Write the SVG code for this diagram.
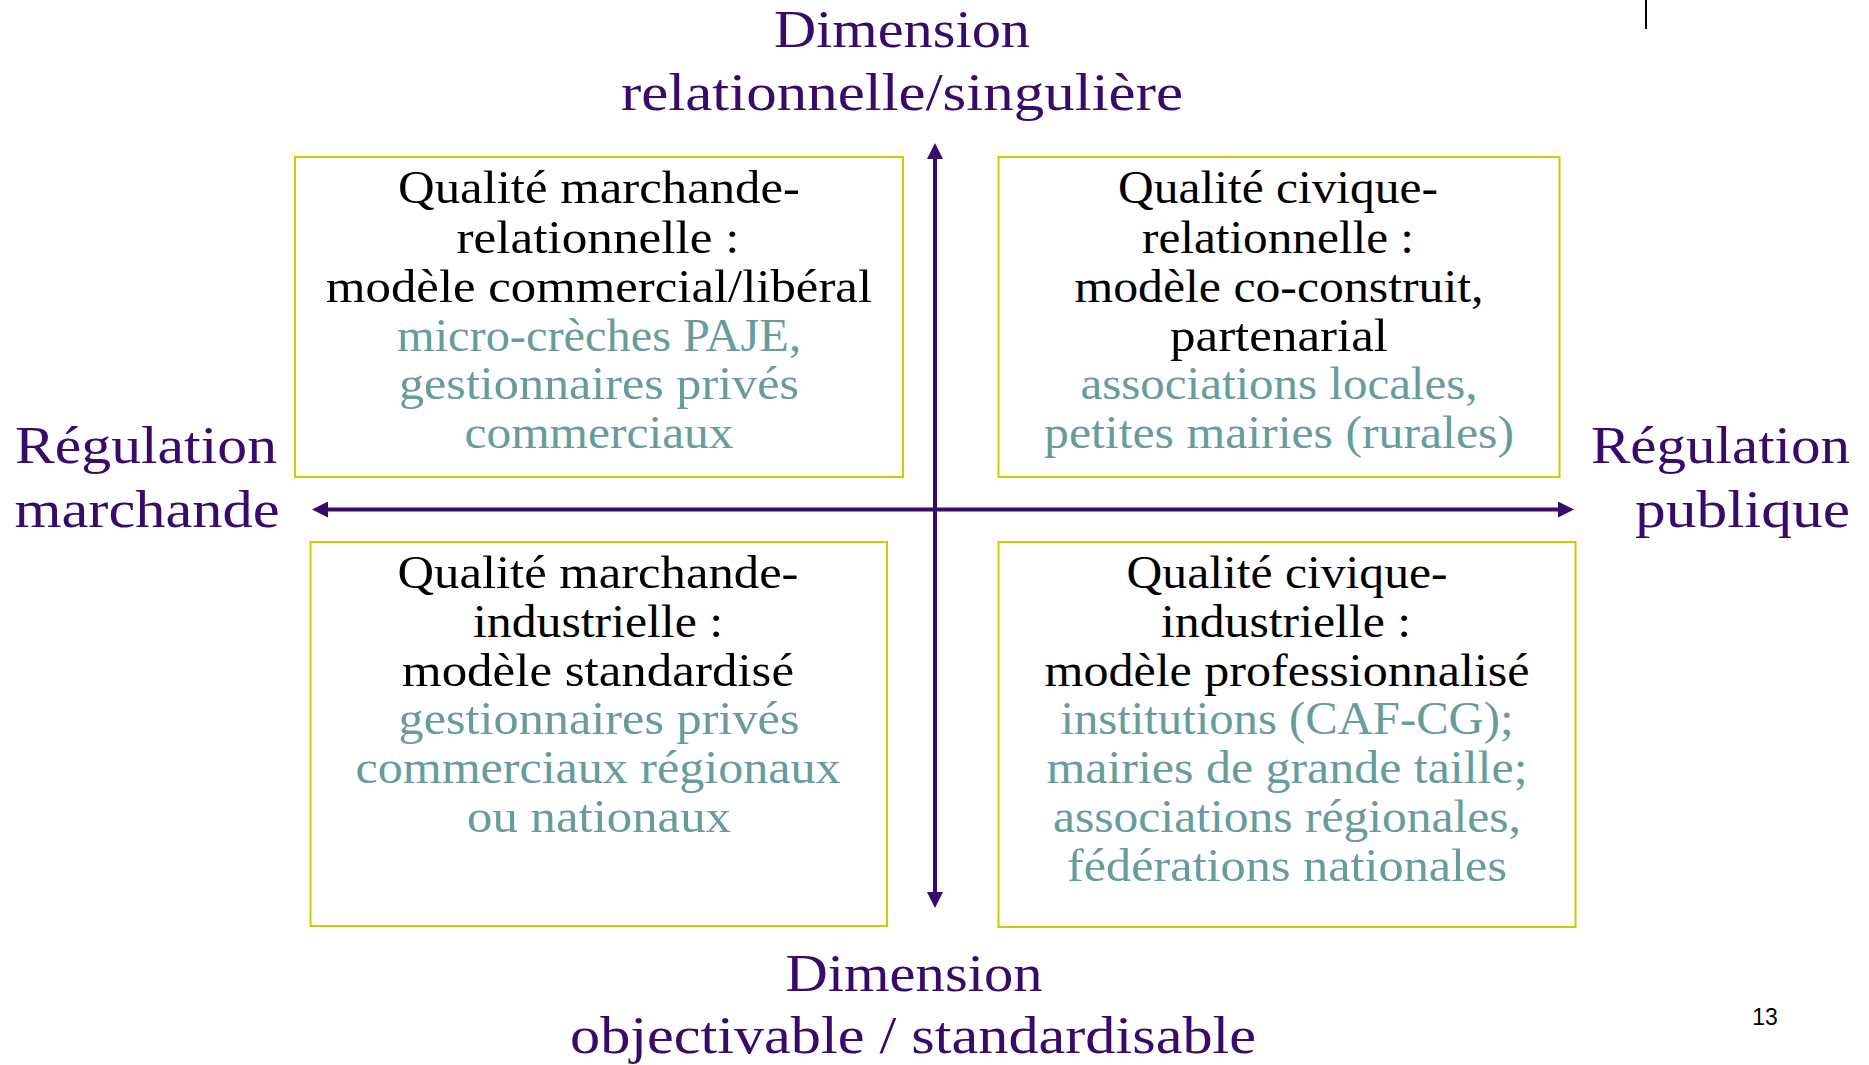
<svg xmlns="http://www.w3.org/2000/svg" width="1869" height="1065" viewBox="0 0 1869 1065">
<defs>
<style>
.box{fill:#FFFFFF;stroke:#CCCC00;stroke-width:2}
.t{font-family:"Liberation Serif","Times New Roman",serif;font-size:46px;text-anchor:middle}
.k{fill:#000000}
.g{fill:#669C9C}
.ax{font-family:"Liberation Serif","Times New Roman",serif;font-size:52px;fill:#370A6C}
.c{text-anchor:middle}
.e{text-anchor:end}
.conn{stroke:#370A6C;stroke-width:4;fill:none}
</style>
<marker id="ah" viewBox="0 0 16 16" markerWidth="16" markerHeight="16" refX="1" refY="8" orient="auto-start-reverse" markerUnits="userSpaceOnUse">
<path d="M0,0 L16,8 L0,16 z" fill="#370A6C"/>
</marker>
</defs>
<rect width="1869" height="1065" fill="#FFFFFF"/>

<g id="axis-labels">
<text class="ax c" x="902" y="47" textLength="256" lengthAdjust="spacingAndGlyphs">Dimension</text>
<text class="ax c" x="902" y="110" textLength="562" lengthAdjust="spacingAndGlyphs">relationnelle/singulière</text>
<text class="ax c" x="914" y="991" textLength="257" lengthAdjust="spacingAndGlyphs">Dimension</text>
<text class="ax c" x="913" y="1053" textLength="686" lengthAdjust="spacingAndGlyphs">objectivable / standardisable</text>
<text class="ax c" x="146" y="463" textLength="262" lengthAdjust="spacingAndGlyphs">Régulation</text>
<text class="ax c" x="147" y="527" textLength="265" lengthAdjust="spacingAndGlyphs">marchande</text>
<text class="ax e" x="1850" y="463" textLength="259" lengthAdjust="spacingAndGlyphs">Régulation</text>
<text class="ax e" x="1850" y="527" textLength="215" lengthAdjust="spacingAndGlyphs">publique</text>
</g>

<g id="connectors">
<line class="conn" x1="327" y1="509.5" x2="1559" y2="509.5" marker-start="url(#ah)" marker-end="url(#ah)"/>
<line class="conn" x1="935" y1="158" x2="935" y2="893" marker-start="url(#ah)" marker-end="url(#ah)"/>
</g>

<g id="node-marchande-relationnelle">
<rect class="box" x="295" y="157" width="608" height="320"/>
<text class="t k" x="599" y="203" textLength="402" lengthAdjust="spacingAndGlyphs">Qualité marchande-</text>
<text class="t k" x="598" y="253" textLength="283" lengthAdjust="spacingAndGlyphs">relationnelle  :</text>
<text class="t k" x="599" y="302" textLength="546" lengthAdjust="spacingAndGlyphs">modèle commercial/libéral</text>
<text class="t g" x="599" y="351" textLength="404" lengthAdjust="spacingAndGlyphs">micro-crèches PAJE,</text>
<text class="t g" x="599" y="399" textLength="400" lengthAdjust="spacingAndGlyphs">gestionnaires privés</text>
<text class="t g" x="599" y="448" textLength="269" lengthAdjust="spacingAndGlyphs">commerciaux</text>
</g>

<g id="node-civique-relationnelle">
<rect class="box" x="998.5" y="157" width="561" height="320"/>
<text class="t k" x="1278" y="203" textLength="320" lengthAdjust="spacingAndGlyphs">Qualité civique-</text>
<text class="t k" x="1278" y="253" textLength="272" lengthAdjust="spacingAndGlyphs">relationnelle :</text>
<text class="t k" x="1279" y="302" textLength="409" lengthAdjust="spacingAndGlyphs">modèle co-construit,</text>
<text class="t k" x="1279" y="351" textLength="218" lengthAdjust="spacingAndGlyphs">partenarial</text>
<text class="t g" x="1279" y="399" textLength="397" lengthAdjust="spacingAndGlyphs">associations locales,</text>
<text class="t g" x="1279" y="448" textLength="470" lengthAdjust="spacingAndGlyphs">petites mairies (rurales)</text>
</g>

<g id="node-marchande-industrielle">
<rect class="box" x="310.5" y="542" width="576.5" height="384"/>
<text class="t k" x="598" y="588" textLength="401" lengthAdjust="spacingAndGlyphs">Qualité marchande-</text>
<text class="t k" x="598" y="637" textLength="250" lengthAdjust="spacingAndGlyphs">industrielle :</text>
<text class="t k" x="598" y="686" textLength="392" lengthAdjust="spacingAndGlyphs">modèle standardisé</text>
<text class="t g" x="599" y="734" textLength="401" lengthAdjust="spacingAndGlyphs">gestionnaires privés</text>
<text class="t g" x="598" y="783" textLength="485" lengthAdjust="spacingAndGlyphs">commerciaux régionaux</text>
<text class="t g" x="599" y="832" textLength="264" lengthAdjust="spacingAndGlyphs">ou nationaux</text>
</g>

<g id="node-civique-industrielle">
<rect class="box" x="998.5" y="542" width="577" height="385"/>
<text class="t k" x="1287" y="588" textLength="321" lengthAdjust="spacingAndGlyphs">Qualité civique-</text>
<text class="t k" x="1286" y="637" textLength="250" lengthAdjust="spacingAndGlyphs">industrielle :</text>
<text class="t k" x="1287" y="686" textLength="485" lengthAdjust="spacingAndGlyphs">modèle professionnalisé</text>
<text class="t g" x="1287" y="734" textLength="453" lengthAdjust="spacingAndGlyphs">institutions (CAF-CG);</text>
<text class="t g" x="1287" y="783" textLength="481" lengthAdjust="spacingAndGlyphs">mairies de grande taille;</text>
<text class="t g" x="1287" y="832" textLength="468" lengthAdjust="spacingAndGlyphs">associations régionales,</text>
<text class="t g" x="1287" y="881" textLength="440" lengthAdjust="spacingAndGlyphs">fédérations nationales</text>
</g>

<g id="page-decor">
<line x1="1646" y1="0" x2="1646" y2="29" stroke="#000000" stroke-width="2"/>
<text x="1765" y="1025" font-family="'Liberation Sans', Arial, sans-serif" font-size="23" text-anchor="middle" fill="#000000">13</text>
</g>
</svg>
